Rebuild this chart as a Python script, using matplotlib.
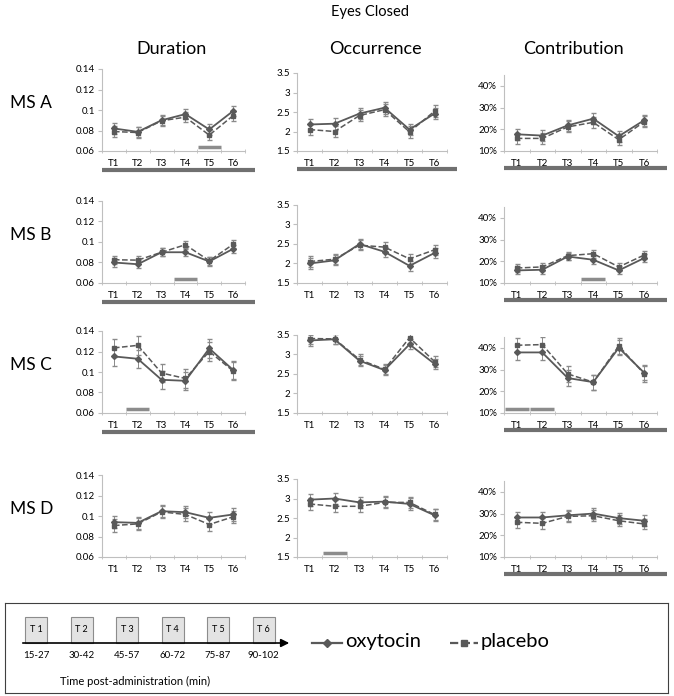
import numpy as np
import matplotlib
matplotlib.use('Agg')
import matplotlib.pyplot as plt
from matplotlib.patches import Rectangle
from matplotlib.ticker import FuncFormatter

plt.rcParams['font.family'] = ['Lato', 'DejaVu Sans']

# data
timepoints = ['T1', 'T2', 'T3', 'T4', 'T5', 'T6']
time_ranges = ['15-27', '30-42', '45-57', '60-72', '75-87', '90-102']
states = ['MS A', 'MS B', 'MS C', 'MS D']
measures = ['Duration', 'Occurrence', 'Contribution']

dur_oxy = [[0.082, 0.0787, 0.090, 0.096, 0.081, 0.099],
           [0.080, 0.0783, 0.090, 0.090, 0.081, 0.0933],
           [0.1152, 0.1129, 0.0924, 0.0914, 0.123, 0.102],
           [0.094, 0.0933, 0.1047, 0.1037, 0.0982, 0.1015]]
dur_pla = [[0.079, 0.078, 0.0895, 0.093, 0.0755, 0.0945],
           [0.0827, 0.0823, 0.090, 0.0973, 0.0817, 0.0977],
           [0.1235, 0.126, 0.099, 0.0937, 0.120, 0.101],
           [0.0907, 0.0923, 0.104, 0.1015, 0.0917, 0.0992]]
dur_err = [0.005, 0.004, 0.009, 0.006]

occ_oxy = [[2.18, 2.20, 2.46, 2.61, 2.05, 2.46],
           [2.00, 2.08, 2.50, 2.30, 1.94, 2.27],
           [3.36, 3.39, 2.84, 2.60, 3.26, 2.76],
           [2.97, 3.00, 2.90, 2.92, 2.86, 2.57]]
occ_pla = [[2.05, 2.00, 2.41, 2.56, 1.99, 2.52],
           [2.05, 2.11, 2.47, 2.42, 2.12, 2.35],
           [3.41, 3.40, 2.87, 2.62, 3.43, 2.82],
           [2.86, 2.80, 2.80, 2.90, 2.90, 2.59]]
occ_err = [0.15, 0.13, 0.13, 0.15]

con_oxy = [[0.177, 0.171, 0.218, 0.249, 0.168, 0.242],
           [0.158, 0.161, 0.222, 0.207, 0.158, 0.215],
           [0.379, 0.379, 0.261, 0.242, 0.400, 0.285],
           [0.282, 0.282, 0.292, 0.300, 0.279, 0.267]]
con_pla = [[0.158, 0.158, 0.211, 0.232, 0.152, 0.235],
           [0.169, 0.174, 0.226, 0.235, 0.174, 0.229],
           [0.412, 0.415, 0.280, 0.242, 0.409, 0.280],
           [0.260, 0.255, 0.287, 0.290, 0.267, 0.252]]
con_err = [0.025, 0.018, 0.035, 0.025]

# (row, col) panels with a main-effect bar under the axis
main_bars = [(0, 0), (0, 1), (0, 2), (1, 0), (1, 2), (2, 0), (2, 2), (3, 2)]
# (row, col, timepoint index) with a post-hoc bar
post_bars = [(0, 0, 4), (1, 0, 3), (1, 2, 3), (2, 0, 1), (2, 2, 0), (2, 2, 1), (3, 1, 1)]

W, H = 674, 696
fig = plt.figure(figsize=(W / 100, H / 100), dpi=100)

def px_box(x0, y0, x1, y1):
    return [x0 / W, 1 - y1 / H, (x1 - x0) / W, (y1 - y0) / H]

col_x = [(102, 245), (297, 447), (504, 657)]
col_h = [82, 78, 76]
title_x = [171, 375, 573]
row_bottom = [151, 283, 413, 557]
ylims = [(0.06, 0.14), (1.5, 3.5), (0.10, 0.45)]
yticks = [[0.06, 0.08, 0.1, 0.12, 0.14], [1.5, 2, 2.5, 3, 3.5], [0.1, 0.2, 0.3, 0.4]]
fmts = [lambda v, p: ('%g' % v), lambda v, p: ('%g' % v), lambda v, p: '%d%%' % round(v * 100)]

oxy_all = [dur_oxy, occ_oxy, con_oxy]
pla_all = [dur_pla, occ_pla, con_pla]
err_all = [dur_err, occ_err, con_err]

line_c = '#595959'
axis_c = '#bfbfbf'
bar_c = '#707070'
x = np.arange(len(timepoints))

for r in range(4):
    for c in range(3):
        x0, x1 = col_x[c]
        yb = row_bottom[r]
        ax = fig.add_axes(px_box(x0, yb - col_h[c], x1, yb))
        e = err_all[c][r]
        ax.errorbar(x, oxy_all[c][r], yerr=e, color=line_c, lw=1.3, marker='D', ms=3,
                    ecolor='#8a8a8a', elinewidth=0.7, capsize=1.8, zorder=3)
        ax.errorbar(x, pla_all[c][r], yerr=e, color=line_c, lw=1.1, ls='--', marker='s', ms=3.5,
                    ecolor='#8a8a8a', elinewidth=0.7, capsize=1.8, zorder=3)
        ax.set_xlim(-0.5, 5.5)
        ax.set_ylim(*ylims[c])
        ax.set_yticks(yticks[c])
        ax.yaxis.set_major_formatter(FuncFormatter(fmts[c]))
        ax.set_xticks(x)
        ax.set_xticklabels(timepoints, fontsize=7)
        ax.set_xticks(np.arange(-0.5, 6, 1), minor=True)
        ax.tick_params(axis='x', which='major', length=0, pad=6)
        ax.tick_params(axis='x', which='minor', length=3, color=axis_c, direction='inout')
        ax.tick_params(axis='y', length=3, color=axis_c, labelsize=7, pad=2)
        for s in ['top', 'right']:
            ax.spines[s].set_visible(False)
        for s in ['left', 'bottom']:
            ax.spines[s].set_color(axis_c)
            ax.spines[s].set_linewidth(0.8)
        if (r, c) in main_bars:
            ax.plot([-0.5, 5.9], [-0.23, -0.23], color=bar_c, lw=3, solid_capstyle='butt',
                    transform=ax.get_xaxis_transform(), clip_on=False)
        for (rr, cc, t) in post_bars:
            if rr == r and cc == c:
                ax.plot([t - 0.48, t + 0.48], [0.05, 0.05], color='#8c8c8c', lw=2.5,
                        solid_capstyle='butt', transform=ax.get_xaxis_transform(), clip_on=False)
    fig.text(10 / W, 1 - (row_bottom[r] - 48) / H, states[r], fontsize=12.5, va='center', ha='left')

for c in range(3):
    fig.text(title_x[c] / W, 1 - 49 / H, measures[c], fontsize=13, ha='center', va='center')
fig.text(370 / W, 1 - 12 / H, 'Eyes Closed', fontsize=10.5, ha='center', va='center')

# legend box at the bottom
lax = fig.add_axes(px_box(5, 603, 668, 693))
lax.set_xlim(5, 668)
lax.set_ylim(693, 603)
lax.set_xticks([])
lax.set_yticks([])
for s in lax.spines.values():
    s.set_color('#404040')
    s.set_linewidth(0.8)
for i, (tp, tr) in enumerate(zip(timepoints, time_ranges)):
    cx = 36 + 45.5 * i
    lax.add_patch(Rectangle((cx - 11, 617), 22, 26, facecolor='#e3e3e3', edgecolor='#8c8c8c', lw=0.8))
    lax.text(cx, 630, tp[0] + ' ' + tp[1], fontsize=6.5, ha='center', va='center')
    lax.text(cx, 656, tr, fontsize=7, ha='center', va='center')
lax.annotate('', xy=(292, 643), xytext=(20, 643),
             arrowprops=dict(arrowstyle='-|>', color='black', lw=1.2, mutation_scale=12))
lax.text(135, 681, 'Time post-administration (min)', fontsize=8, ha='center', va='center')
lax.plot([312, 342], [643, 643], color=line_c, lw=1.6)
lax.plot([327], [643], marker='D', color=line_c, ms=4)
lax.text(345, 642, 'oxytocin', fontsize=14.5, ha='left', va='center')
lax.plot([450, 478], [643, 643], color=line_c, lw=1.6, ls='--')
lax.plot([464], [643], marker='s', color=line_c, ms=5)
lax.text(481, 642, 'placebo', fontsize=14.5, ha='left', va='center')

fig.savefig('out.png', dpi=100)
